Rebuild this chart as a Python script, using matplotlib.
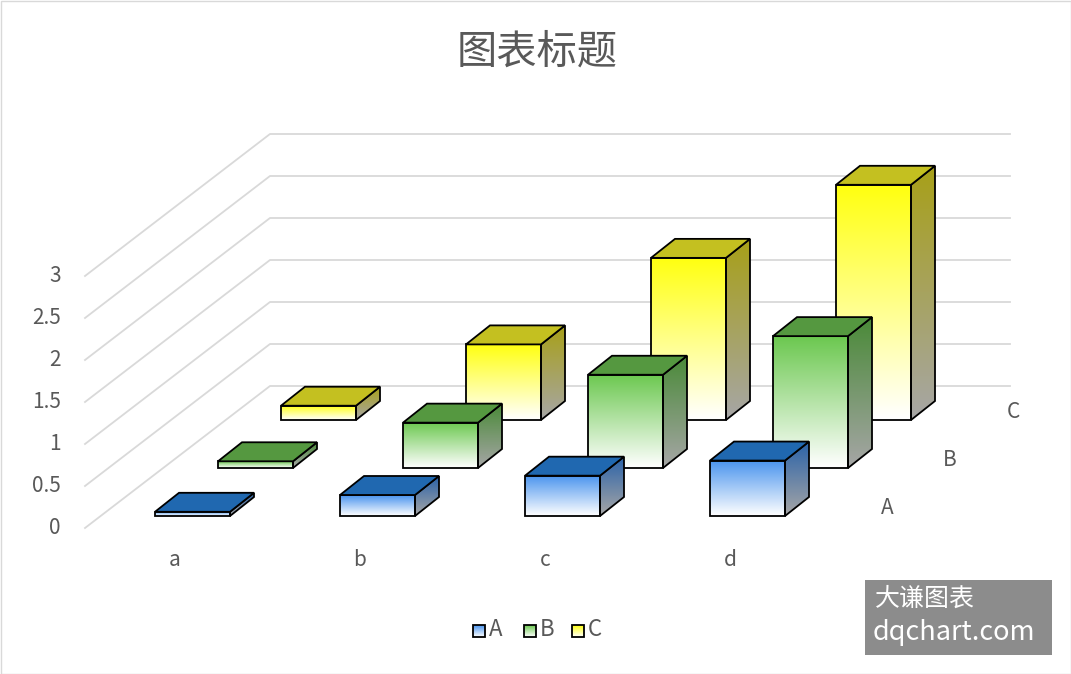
import numpy as np
import matplotlib
matplotlib.use("Agg")
import matplotlib.pyplot as plt
from matplotlib.patches import Polygon, Rectangle
from matplotlib.colors import to_rgb

plt.rcParams['font.family'] = ['Noto Sans CJK SC', 'DejaVu Sans']

categories = ['a', 'b', 'c', 'd']
series = ['A', 'B', 'C']
values_A = [0.05, 0.25, 0.48, 0.66]
values_B = [0.08, 0.54, 1.11, 1.57]
values_C = [0.17, 0.90, 1.93, 2.80]
yticks = [0, 0.5, 1, 1.5, 2, 2.5, 3]
ytick_labels = ['0', '0.5', '1', '1.5', '2', '2.5', '3']
title = '图表标题'

# geometry (pixel space)
W, H = 1071, 674
O = np.array([85.0, 528.0])      # front-left floor corner
DEPTH = np.array([185.0, -142.0])  # full depth of plot
SCALE = 84.0                     # px per unit
CAT_STEP = 185.0
BAR_W = 75.0
BAR_D = np.array([24.0, -19.0])
ROW_OFF = [np.array([15.0, -12.0]), np.array([78.0, -60.0]), np.array([141.0, -108.0])]
X0 = 55.0
BACK_RIGHT = 1010.0

front_top = {'A': '#4a94ee', 'B': '#6cc850', 'C': '#ffff10'}
top_col = {'A': '#2068b0', 'B': '#559840', 'C': '#c4c020'}
side_top = {'A': '#2a62a8', 'B': '#4a8a38', 'C': '#a8a018'}

fig = plt.figure(figsize=(W / 100, H / 100), dpi=100)
ax = fig.add_axes([0, 0, 1, 1])
ax.set_xlim(0, W)
ax.set_ylim(H, 0)
ax.axis('off')
ax.add_patch(Rectangle((0.5, 0.5), W - 1, H - 1, fill=False, ec='#d9d9d9', lw=1))

grid_c = '#d9d9d9'
for v, lab in zip(yticks, ytick_labels):
    f = O + np.array([0, -v * SCALE])
    b = f + DEPTH
    ax.plot([f[0], b[0], BACK_RIGHT], [f[1], b[1], b[1]], color=grid_c, lw=1.3, zorder=1)
    ax.text(f[0] - 24, f[1], lab, ha='right', va='center', fontsize=15, color='#595959')

def grad_fill(poly, c_top, c_bot, z):
    poly = np.asarray(poly)
    xmin, ymin = poly.min(0)
    xmax, ymax = poly.max(0)
    t = np.linspace(0, 1, 64)[:, None]
    a, b = np.array(to_rgb(c_top)), np.array(to_rgb(c_bot))
    img = (a * (1 - t) + b * t)[:, None, :]
    im = ax.imshow(img, extent=[xmin, xmax, ymax, ymin], aspect='auto', zorder=z, interpolation='bilinear')
    p = Polygon(poly, closed=True, fc='none', ec='black', lw=1.3, zorder=z + 0.1)
    ax.add_patch(p)
    im.set_clip_path(p)

data = {'A': values_A, 'B': values_B, 'C': values_C}
z = 2
for ri in [2, 1, 0]:
    s = series[ri]
    for ci, v in enumerate(data[s]):
        bl = O + ROW_OFF[ri] + np.array([X0 + ci * CAT_STEP, 0])
        br = bl + np.array([BAR_W, 0])
        h = np.array([0, -v * SCALE])
        tl, tr = bl + h, br + h
        front = [bl, br, tr, tl]
        side = [br, br + BAR_D, tr + BAR_D, tr]
        top = [tl, tr, tr + BAR_D, tl + BAR_D]
        grad_fill(front, front_top[s], '#ffffff', z)
        grad_fill(side, side_top[s], '#a6a6a6', z)
        ax.add_patch(Polygon(top, closed=True, fc=top_col[s], ec='black', lw=1.3, zorder=z + 0.2))
        z += 1
    lab_pos = O + ROW_OFF[ri] + np.array([X0 + 4 * CAT_STEP - 8, 0])
    ax.text(lab_pos[0], lab_pos[1] - 8, s, ha='center', va='center', fontsize=15, color='#595959')

for ci, c in enumerate(categories):
    x = O[0] + X0 + ci * CAT_STEP + 35
    ax.text(x, 560, c, ha='center', va='center', fontsize=15, color='#595959')

ax.text(537, 52, title, ha='center', va='center', fontsize=29, color='#595959')

# legend
lx = [473, 524, 572]
for s, x in zip(series, lx):
    grad_fill([(x, 637), (x + 12, 637), (x + 12, 625), (x, 625)], front_top[s], '#ffffff', 50)
    ax.text(x + 16, 630, s, ha='left', va='center', fontsize=16, color='#595959')

# watermark
ax.add_patch(Rectangle((865, 580), 187, 75, fc='#8c8c8c', ec='none', zorder=60))
ax.text(875, 599, '大谦图表', ha='left', va='center', fontsize=18, color='white', zorder=61)
ax.text(873, 632, 'dqchart.com', ha='left', va='center', fontsize=19.5, color='white', zorder=61)

fig.savefig('out.png', dpi=100)
